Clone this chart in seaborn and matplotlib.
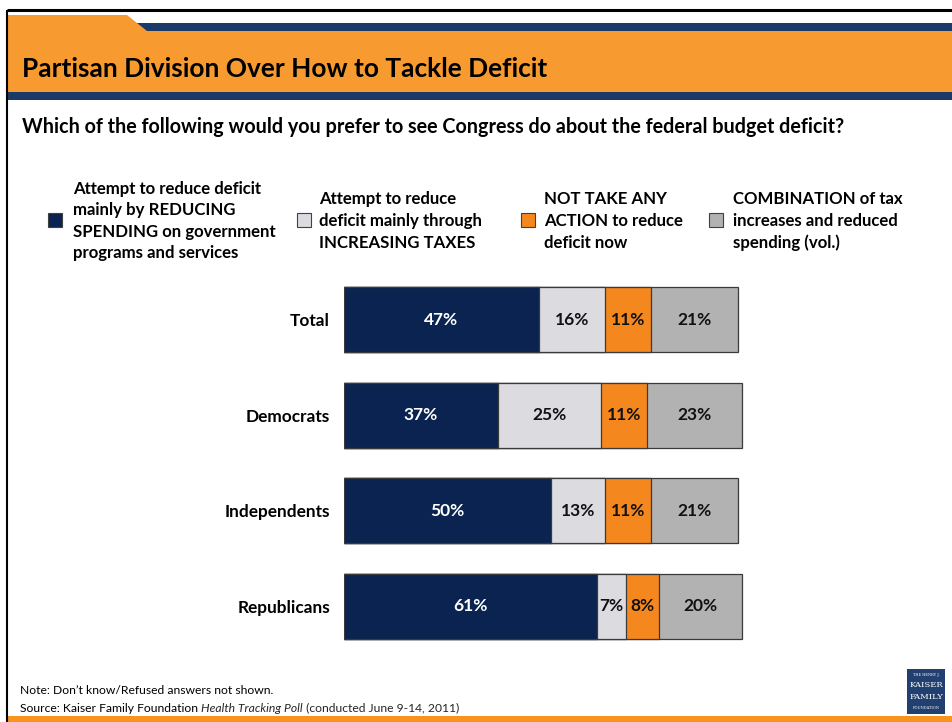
import matplotlib
matplotlib.use("Agg")
import matplotlib.pyplot as plt
from matplotlib.patches import Rectangle, Polygon
import numpy as np
import pandas as pd
import seaborn as sns

# ---- data -------------------------------------------------------------
groups = ["Total", "Democrats", "Independents", "Republicans"]
reduce_spending = [47, 37, 50, 61]
increase_taxes = [16, 25, 13, 7]
no_action = [11, 11, 11, 8]
combination = [21, 23, 21, 20]

series_labels = [
    "Attempt to reduce deficit\nmainly by REDUCING\nSPENDING on government\nprograms and services",
    "Attempt to reduce\ndeficit mainly through\nINCREASING TAXES",
    "NOT TAKE ANY\nACTION to reduce\ndeficit now",
    "COMBINATION of tax\nincreases and reduced\nspending (vol.)",
]
series_colors = ["#0A2350", "#DCDBE0", "#F5871F", "#B2B2B2"]
label_colors = ["white", "#111111", "#111111", "#111111"]

title = "Partisan Division Over How to Tackle Deficit"
subtitle = "Which of the following would you prefer to see Congress do about the federal budget deficit?"
note = "Note: Don\u2019t know/Refused answers not shown."

# ---- figure -----------------------------------------------------------
sns.set_theme(style="white")
plt.rcParams["font.family"] = ["Lato", "DejaVu Sans"]

W, H = 953, 722
fig = plt.figure(figsize=(W / 100, H / 100), dpi=100)
fig.patch.set_facecolor("white")

# pixel-space layer for slide decorations
bg = fig.add_axes([0, 0, 1, 1])
bg.set_xlim(0, W)
bg.set_ylim(H, 0)
bg.axis("off")

navy_band = "#1B3A68"
orange_band = "#F79A2F"

# slide frame
bg.plot([7, W], [10, 10], color="black", lw=2.2, solid_capstyle="butt")
bg.plot([7, 7], [10, H], color="black", lw=1.5, solid_capstyle="butt")

# header bands
bg.add_patch(Rectangle((7, 23), W - 7, 8, color=navy_band, lw=0))
bg.add_patch(Rectangle((7, 31), W - 7, 61, color=orange_band, lw=0))
bg.add_patch(Rectangle((7, 92), W - 7, 8, color=navy_band, lw=0))
bg.add_patch(Polygon([(7, 15), (127, 15), (147, 31), (7, 31)], closed=True,
                     color=orange_band, lw=0))
# bottom strip
bg.add_patch(Rectangle((7, 716), W - 7, 6, color="#F7941D", lw=0))

bg.text(22, 69, title, fontsize=18.9, fontweight="bold", color="black",
        ha="left", va="center")
bg.text(22, 127, subtitle, fontsize=14.2, fontweight="bold", color="black",
        ha="left", va="center")

# legend
legend_pos = [(48, 73), (297, 319), (521, 544), (709, 733)]
for (sx, tx), lab, col in zip(legend_pos, series_labels, series_colors):
    bg.add_patch(Rectangle((sx, 213), 14, 14, facecolor=col,
                           edgecolor="#404040", lw=0.8))
    bg.text(tx, 221, lab, fontsize=12.1, fontweight="bold", color="black",
            ha="left", va="center", linespacing=1.43)

# footnotes
fs_note = 8.7
bg.text(20, 691, note, fontsize=fs_note, color="black", ha="left", va="center")
src = bg.text(20, 708, "Source: Kaiser Family Foundation ", fontsize=fs_note,
              color="black", ha="left", va="center")
src2 = bg.annotate("Health Tracking Poll", xy=(0, 0), xycoords=src,
                   xytext=(1, 0), textcoords=src, fontsize=fs_note,
                   style="italic", ha="left", va="bottom")
src3 = bg.annotate(" (conducted June 9-14, 2011)", xy=(0, 0), xycoords=src2,
                   xytext=(1, 0), textcoords=src2, fontsize=fs_note,
                   ha="left", va="bottom")

# foundation mark
bg.add_patch(Rectangle((907, 669), 38, 45, facecolor="#21406F", lw=0))
bg.text(926, 675, "THE HENRY J.", fontsize=2.6, color="white", ha="center",
        va="center", family="DejaVu Serif")
bg.text(926, 685, "KAISER", fontsize=6, color="white", ha="center",
        va="center", family="DejaVu Serif")
bg.text(926, 697, "FAMILY", fontsize=6, color="white", ha="center",
        va="center", family="DejaVu Serif")
bg.text(926, 708, "FOUNDATION", fontsize=2.6, color="white", ha="center",
        va="center", family="DejaVu Serif")

# ---- stacked bars -----------------------------------------------------
ax = fig.add_axes([344 / W, 1 - 654 / H, 415 / W, 382 / H])
values = np.array([reduce_spending, increase_taxes, no_action, combination])
cum = values.cumsum(axis=0)

df = pd.DataFrame({"group": groups})
for k in range(values.shape[0]):
    df[f"c{k}"] = cum[k]

# draw cumulative totals from the widest down so each segment shows
for k in range(values.shape[0] - 1, -1, -1):
    sns.barplot(data=df, x=f"c{k}", y="group", order=groups, orient="h",
                color=series_colors[k], saturation=1, width=0.68,
                edgecolor="#3A3A3A", linewidth=0.9, ax=ax)

for k in range(values.shape[0]):
    for i in range(len(groups)):
        v = values[k, i]
        center = cum[k, i] - v / 2
        ax.text(center, i, f"{v}%", ha="center", va="center",
                fontsize=12.5, fontweight="bold", color=label_colors[k])

ax.set_xlim(0, 100)
ax.set_ylim(len(groups) - 0.5, -0.5)
ax.set_xlabel("")
ax.set_ylabel("")
ax.set_xticks([])
ax.tick_params(axis="y", length=0, pad=10)
for lab in ax.get_yticklabels():
    lab.set_fontweight("bold")
    lab.set_fontsize(12.4)
    lab.set_color("black")
for s in ax.spines.values():
    s.set_visible(False)
ax.patch.set_alpha(0)

fig.savefig("out.png", dpi=100, facecolor="white")
